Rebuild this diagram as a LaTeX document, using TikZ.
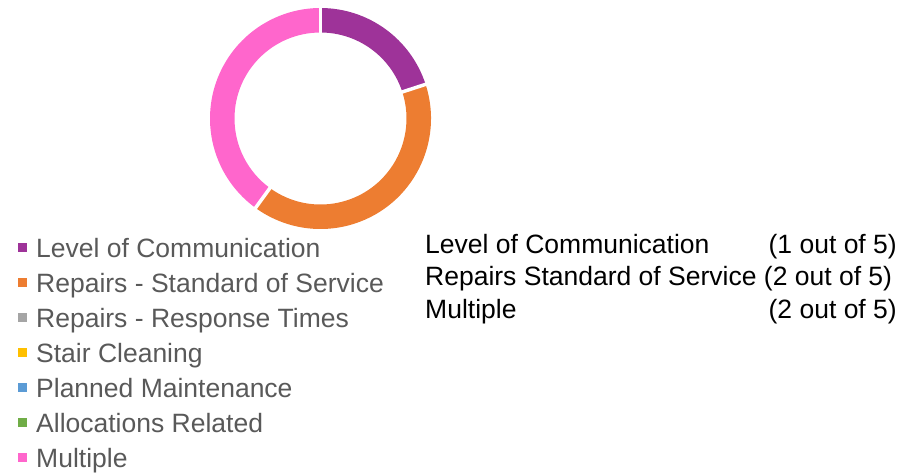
\documentclass[tikz,border=0pt]{standalone}
\usepackage{fontspec}
\setmainfont{Liberation Sans}
\usetikzlibrary{positioning,calc}
\usepackage{xcolor}

\definecolor{compurple}{HTML}{9E3399}
\definecolor{reporange}{HTML}{ED7D31}
\definecolor{respgray}{HTML}{A5A5A5}
\definecolor{stairyellow}{HTML}{FFC000}
\definecolor{planblue}{HTML}{5B9BD5}
\definecolor{allocgreen}{HTML}{70AD47}
\definecolor{multipink}{HTML}{FF66CC}
\definecolor{legendgray}{HTML}{595959}

\begin{document}
\begin{tikzpicture}[x=1pt, y=1pt,
    legbox/.style={inner sep=0pt, minimum size=9pt},
    legtext/.style={anchor=base west, inner sep=0pt, text=legendgray, font=\fontsize{26.5}{30}\selectfont},
    sumtext/.style={inner sep=0pt, text=black, font=\fontsize{26.5}{30}\selectfont}]
            \useasboundingbox (0,0) rectangle (907,-472);

            % Donut
            \coordinate (ctr) at (320.5,-118.5);
            \fill[compurple] ($(ctr)+(90:110.5)$) arc[start angle=90, end angle=18, radius=110.5]
                -- ($(ctr)+(18:86)$) arc[start angle=18, end angle=90, radius=86] -- cycle;
            \fill[reporange] ($(ctr)+(18:110.5)$) arc[start angle=18, end angle=-126, radius=110.5]
                -- ($(ctr)+(-126:86)$) arc[start angle=-126, end angle=18, radius=86] -- cycle;
            \fill[multipink] ($(ctr)+(-126:110.5)$) arc[start angle=-126, end angle=-270, radius=110.5]
                -- ($(ctr)+(-270:86)$) arc[start angle=-270, end angle=-126, radius=86] -- cycle;
            \draw[white, line width=3.5pt] ($(ctr)+(90:84)$) -- ($(ctr)+(90:113)$);
            \draw[white, line width=3.5pt] ($(ctr)+(18:84)$) -- ($(ctr)+(18:113)$);
            \draw[white, line width=3.5pt] ($(ctr)+(-126:84)$) -- ($(ctr)+(-126:113)$);

            % Legend
            \node[legbox, fill=compurple] (kcomm) at (22.5,-247.5) {};
            \node[legtext] (lcomm) at (36,-257) {Level of Communication};
            \node[legbox, fill=reporange] (kstd) at (22.5,-282.5) {};
            \node[legtext] (lstd) at (36,-292) {Repairs - Standard of Service};
            \node[legbox, fill=respgray] (kresp) at (22.5,-317.5) {};
            \node[legtext] (lresp) at (36,-327) {Repairs - Response Times};
            \node[legbox, fill=stairyellow] (kstair) at (22.5,-352.5) {};
            \node[legtext] (lstair) at (36,-362) {Stair Cleaning};
            \node[legbox, fill=planblue] (kplan) at (22.5,-387.5) {};
            \node[legtext] (lplan) at (36,-397) {Planned Maintenance};
            \node[legbox, fill=allocgreen] (kalloc) at (22.5,-422.5) {};
            \node[legtext] (lalloc) at (36,-432) {Allocations Related};
            \node[legbox, fill=multipink] (kmulti) at (22.5,-457.5) {};
            \node[legtext] (lmulti) at (36,-467) {Multiple};

            % Summary
            \node[sumtext, anchor=base west] (scomm) at (425,-253) {Level of Communication};
            \node[sumtext, anchor=base east] (ncomm) at (897,-253) {(1 out of 5)};
            \node[sumtext, anchor=base west] (sstd) at (425,-285.5) {Repairs Standard of Service (2 out of 5)};
            \node[sumtext, anchor=base west] (smulti) at (425,-318) {Multiple};
            \node[sumtext, anchor=base east] (nmulti) at (897,-318) {(2 out of 5)};
\end{tikzpicture}
\end{document}
